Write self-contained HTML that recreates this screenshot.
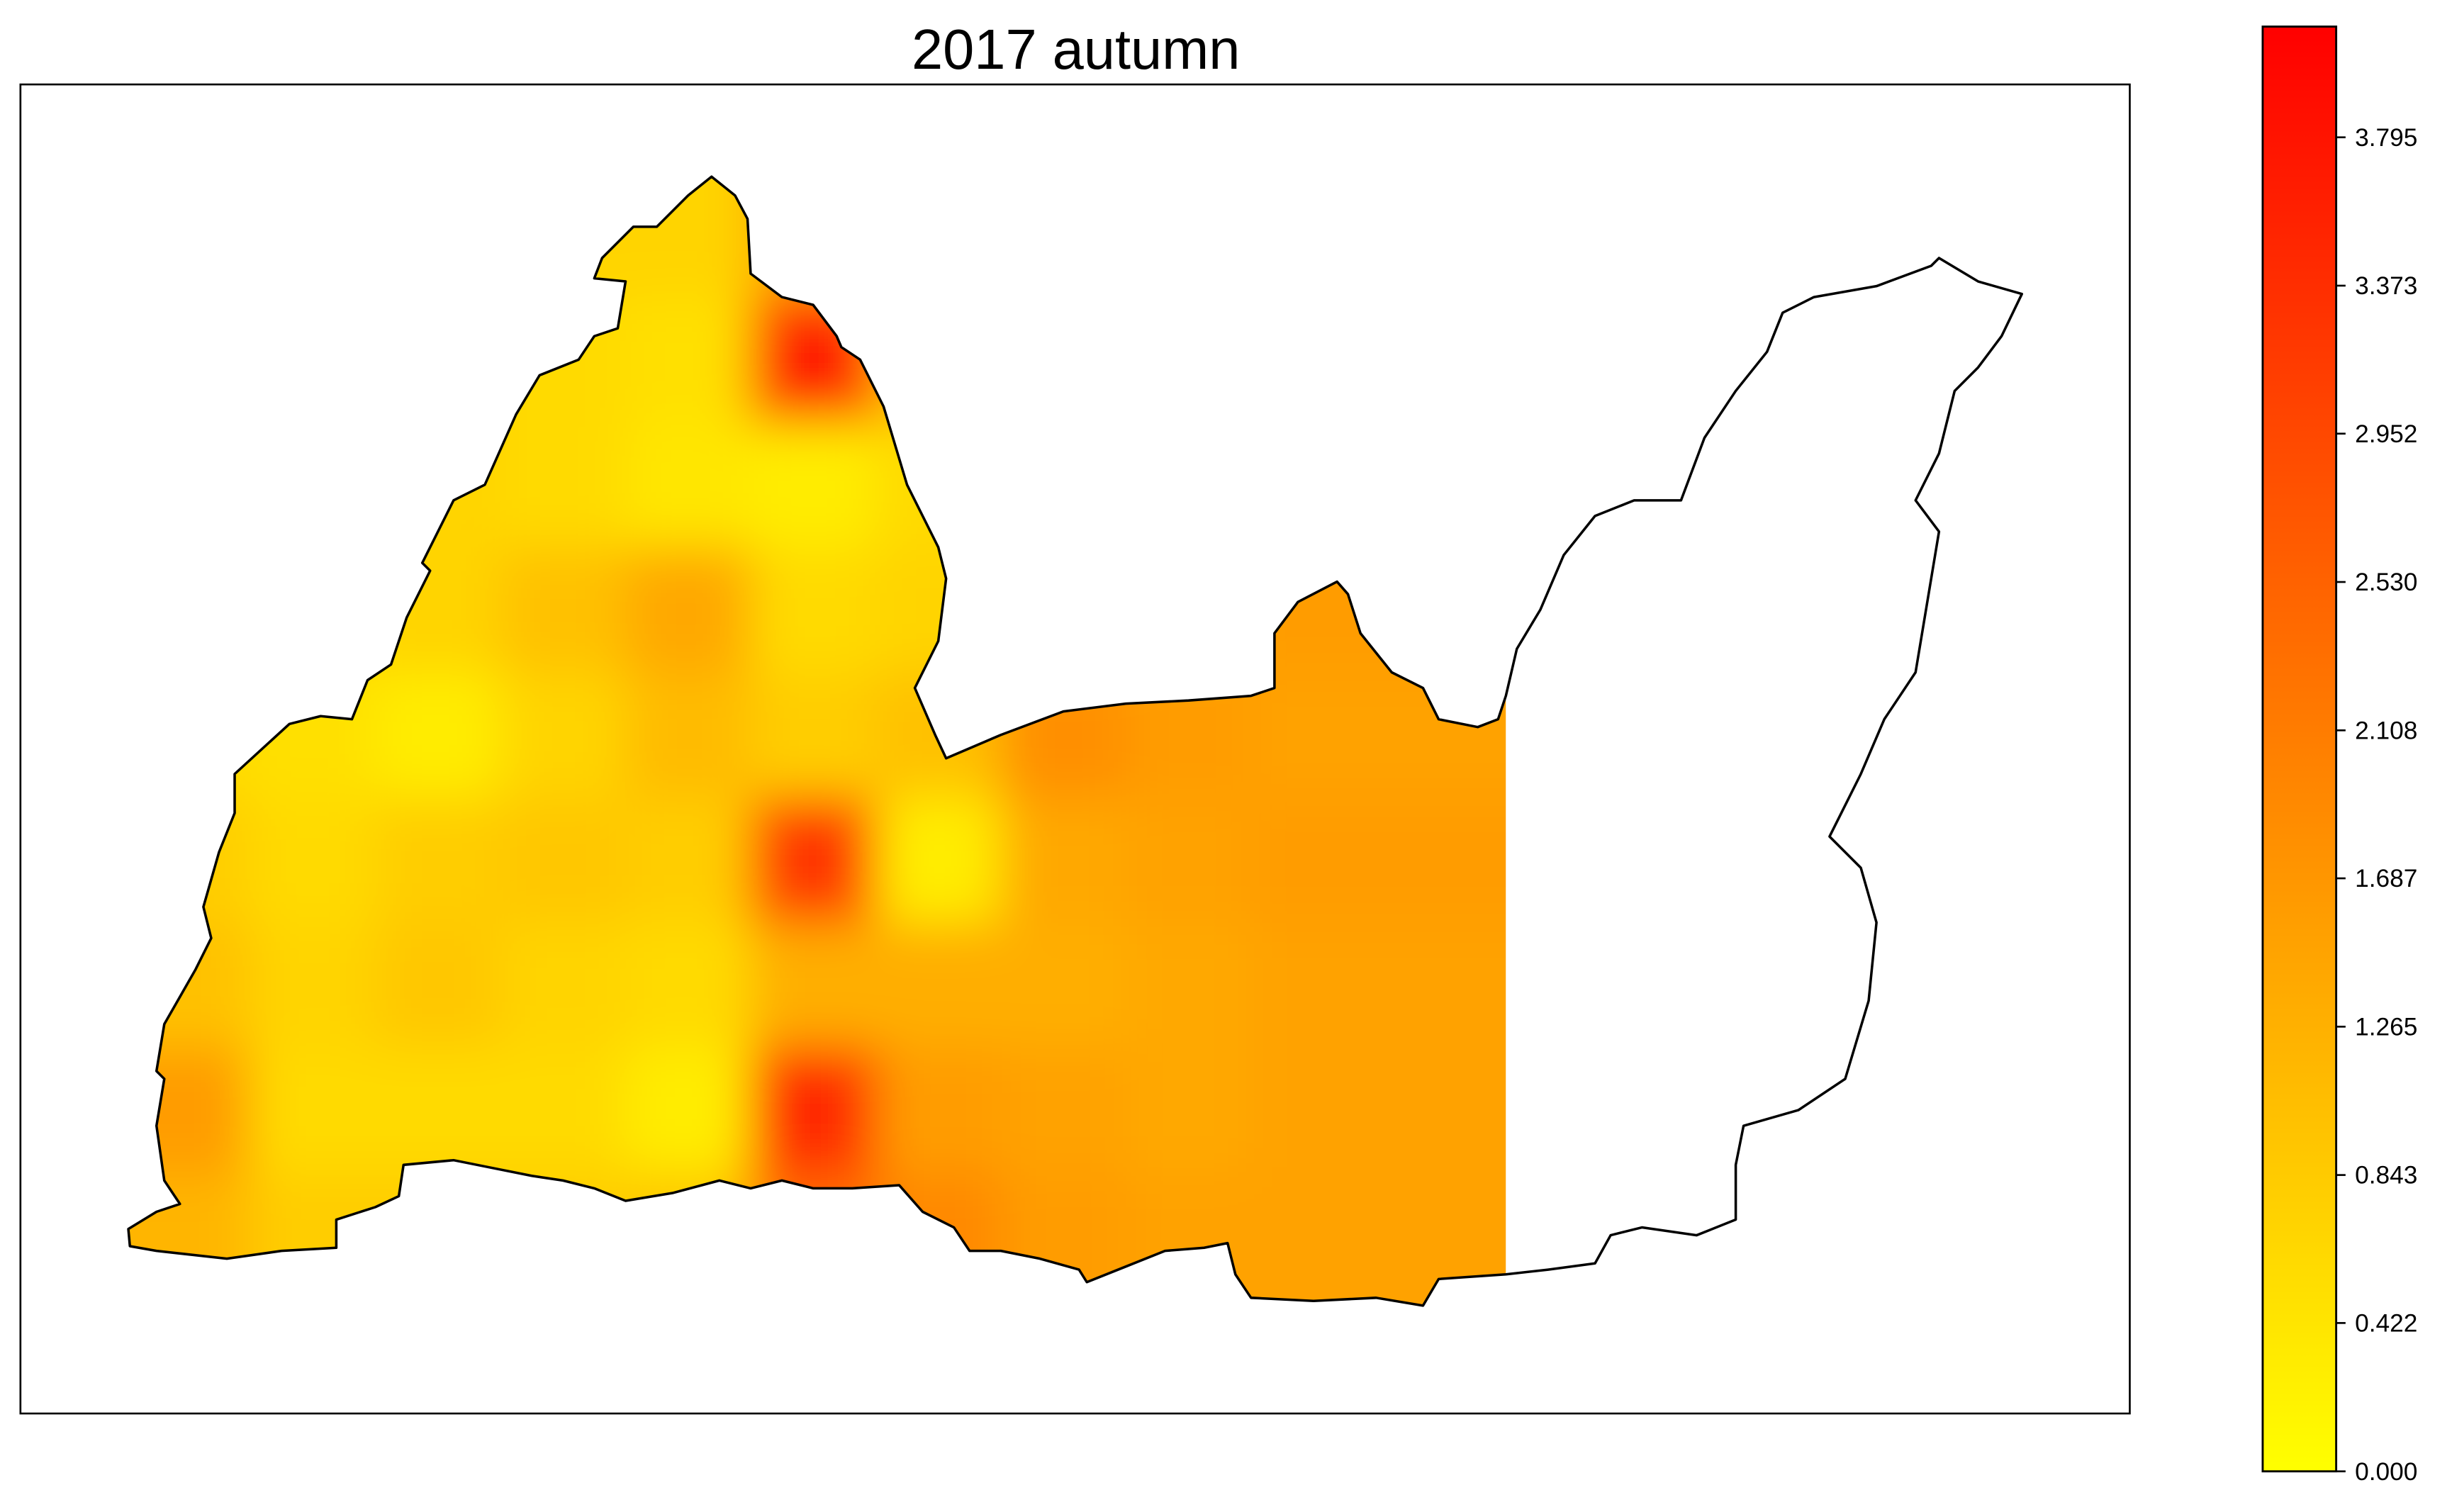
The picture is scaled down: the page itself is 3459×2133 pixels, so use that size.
<!DOCTYPE html>
<html><head><meta charset="utf-8"><style>
html,body{margin:0;padding:0;background:#fff;}
svg{display:block;}
text{font-family:"Liberation Sans","Noto Sans CJK SC",sans-serif;}
</style></head><body>
<svg id="chart" xmlns="http://www.w3.org/2000/svg" width="3459" height="2133" viewBox="0 0 1568 967">
<defs>
<filter id="blur" x="-10%" y="-10%" width="120%" height="120%"><feGaussianBlur stdDeviation="16"/></filter>
<linearGradient id="cbgrad" x1="0" y1="1" x2="0" y2="0">
<stop offset="0" stop-color="#ffff00"/><stop offset="1" stop-color="#ff0000"/>
</linearGradient>
<clipPath id="leftclip"><path id="leftpath" d=""/></clipPath>
</defs>
<text x="688" y="44" font-size="36" text-anchor="middle" fill="#000">2017 autumn</text>
<rect x="13" y="54" width="1349" height="850" fill="none" stroke="#000" stroke-width="1.2"/>
<g id="heat" clip-path="url(#leftclip)"><g id="cells" filter="url(#blur)"></g></g>
<path id="outline" fill="none" stroke="#000" stroke-width="1.6" stroke-linejoin="round"/>
<rect x="1447" y="17" width="47" height="924" fill="url(#cbgrad)" stroke="#000" stroke-width="1.3"/>
<g id="cbticks"></g>
</svg>
<script>
const tickLabels = ["0.000","0.422","0.843","1.265","1.687","2.108","2.530","2.952","3.373","3.795"];
const tickValues = [0,0.422,0.843,1.265,1.687,2.108,2.530,2.952,3.373,3.795];
const vmax = 4.11;
const gridX = [120,200,280,360,440,520,600,680,760,840,920];
const gridY = [150,230,310,390,470,550,630,710,790];
const row0 = [0.7,0.7,0.7,0.7,0.7,1.4,1.0,1.4,1.4,1.5,1.5];
const row1 = [0.7,0.7,0.7,0.6,0.5,3.6,1.0,1.4,1.4,1.5,1.5];
const row2 = [0.7,0.7,0.7,0.6,0.4,0.3,0.6,1.4,1.4,1.5,1.5];
const row3 = [0.7,0.6,0.7,1.0,1.4,0.6,0.7,1.4,1.5,1.6,1.6];
const row4 = [0.6,0.5,0.3,0.7,1.1,0.8,1.0,1.8,1.6,1.5,1.5];
const row5 = [0.8,0.6,0.8,0.9,0.8,3.2,0.3,1.4,1.5,1.6,1.6];
const row6 = [1.0,0.7,0.9,0.7,0.6,1.3,1.3,1.3,1.4,1.5,1.5];
const row7 = [1.6,0.6,0.6,0.6,0.3,3.4,1.6,1.5,1.4,1.5,1.5];
const row8 = [1.2,0.8,0.8,0.8,0.9,2.4,1.9,1.6,1.5,1.5,1.5];
const rows = [row0,row1,row2,row3,row4,row5,row6,row7,row8];

const NS="http://www.w3.org/2000/svg";
const topPts=[[455,113],[470,125],[478,140],[480,175],[500,190],[520,195],[535,215],[538,222],[550,230],[565,260],[580,310],[600,350],[605,370],[600,410],[585,440],[598,470],[605,485],[640,470],[680,455],[720,450],[760,448],[800,445],[815,440],[815,405],[830,385],[855,372],[862,380],[870,405],[890,430],[910,440],[920,460],[945,465],[958,460],[963,445]];
const rightPts=[[970,415],[985,390],[1000,355],[1020,330],[1045,320],[1075,320],[1090,280],[1110,250],[1130,225],[1140,200],[1160,190],[1200,183],[1235,170],[1240,165],[1265,180],[1293,188],[1280,215],[1265,235],[1250,250],[1240,290],[1225,320],[1240,340],[1230,400],[1225,430],[1205,460],[1190,495],[1170,535],[1190,555],[1200,590],[1195,640],[1180,690],[1150,710],[1115,720],[1110,745],[1110,780],[1085,790],[1050,785],[1030,790],[1020,808],[990,812],[963,815]];
const bottomPts=[[920,818],[910,835],[880,830],[840,832],[800,830],[790,815],[785,795],[770,798],[745,800],[720,810],[695,820],[690,812],[665,805],[640,800],[620,800],[610,785],[590,775],[575,758],[545,760],[520,760],[500,755],[480,760],[460,755],[430,763],[400,768],[380,760],[360,755],[340,752],[320,748],[290,742],[258,745],[255,765],[240,772],[215,780],[215,798],[180,800],[145,805],[100,800],[83,797],[82,786],[100,775],[115,770],[105,755],[100,720],[105,690],[100,685],[105,655],[125,620],[135,600],[130,580],[140,545],[150,520],[150,495],[185,463],[205,458],[225,460],[235,435],[250,425],[260,395],[275,365],[270,360],[290,320],[310,310],[330,265],[345,240],[370,230],[380,215],[395,210],[400,180],[380,178],[385,165],[405,145],[420,145],[440,125]];
const toD=p=>"M"+p.map(q=>q.join(",")).join("L")+"Z";
document.getElementById('outline').setAttribute('d',toD(topPts.concat(rightPts,bottomPts)));
document.getElementById('leftpath').setAttribute('d',toD(topPts.concat([[963,815]],bottomPts)));

function color(v){const t=Math.max(0,Math.min(1,v/vmax));return `rgb(255,${Math.round(255*(1-t))},0)`;}
const cells=document.getElementById('cells');
const cw=80,ch=80;
rows.forEach((r,j)=>r.forEach((v,i)=>{
  const el=document.createElementNS(NS,'rect');
  
  
  let x=gridX[i]-cw/2, y=gridY[j]-ch/2, w=cw, h=ch;
  if(i===0){x-=60;w+=60;} if(i===r.length-1){w+=60;}
  if(j===0){y-=60;h+=60;} if(j===rows.length-1){h+=60;}
  el.setAttribute('x',x);el.setAttribute('y',y);el.setAttribute('width',w);el.setAttribute('height',h);
  el.setAttribute('fill',color(v));
  cells.appendChild(el);
}));

const cb=document.getElementById('cbticks');
const cbY=v=>941-(v/vmax)*924;
tickValues.forEach((v,k)=>{
  const y=cbY(v);
  const l=document.createElementNS(NS,'line');
  
  
  l.setAttribute('x1',1494);l.setAttribute('x2',1500);l.setAttribute('y1',y);l.setAttribute('y2',y);
  l.setAttribute('stroke','#000');l.setAttribute('stroke-width','1.2');
  cb.appendChild(l);
  const t=document.createElementNS(NS,'text');
  
  
  t.setAttribute('x',1506);t.setAttribute('y',y+5.5);t.setAttribute('font-size','16');
  t.textContent=tickLabels[k];
  cb.appendChild(t);
});
</script>
</body></html>
